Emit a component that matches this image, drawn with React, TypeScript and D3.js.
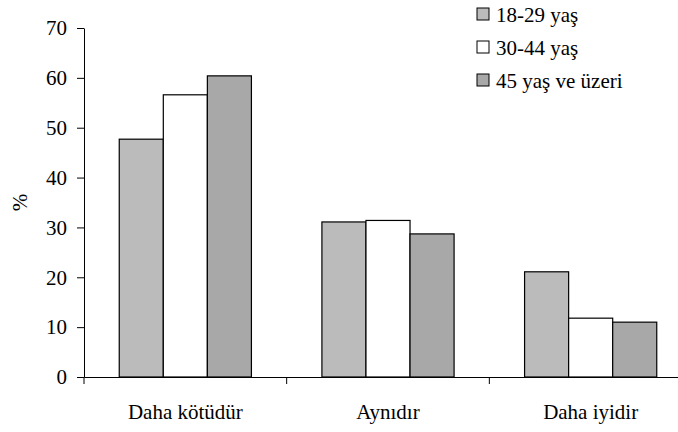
import React, { useEffect, useRef } from 'react';
import * as d3 from 'd3';

const categories = ['Daha kötüdür', 'Aynıdır', 'Daha iyidir'];
const seriesNames = ['18-29 yaş', '30-44 yaş', '45 yaş ve üzeri'];
const young = [47.7, 31.1, 21.1];
const middle = [56.6, 31.4, 11.8];
const older = [60.4, 28.7, 11.0];
const yTicks = [0, 10, 20, 30, 40, 50, 60, 70];

const colors = ['#bbbbbb', '#ffffff', '#a8a8a8'];

const App = () => {
  const ref = useRef<SVGSVGElement>(null);

  useEffect(() => {
    const svg = d3.select(ref.current);
    svg.selectAll('*').remove();

    const width = 678;
    const height = 432;
    const margin = { top: 28, right: -14, bottom: 55, left: 84 };

    const x = d3
      .scaleBand()
      .domain(categories)
      .range([margin.left, width - margin.right])
      .paddingInner(0)
      .paddingOuter(0);

    const inner = d3
      .scaleBand()
      .domain(seriesNames)
      .range([0, x.bandwidth()])
      .paddingOuter(0.8);

    const y = d3
      .scaleLinear()
      .domain([0, 70])
      .range([height - margin.bottom, margin.top]);

    const series = [young, middle, older];

    // Bars
    series.forEach((vals, si) => {
      svg
        .append('g')
        .selectAll('rect')
        .data(vals)
        .join('rect')
        .attr('x', (_, i) => (x(categories[i]) as number) + (inner(seriesNames[si]) as number))
        .attr('y', (d) => y(d))
        .attr('width', inner.bandwidth())
        .attr('height', (d) => y(0) - y(d))
        .attr('fill', colors[si])
        .attr('stroke', '#000')
        .attr('stroke-width', 1.2);
    });

    // Y axis
    const yAxis = svg
      .append('g')
      .attr('transform', `translate(${margin.left},0)`)
      .call(d3.axisLeft(y).tickValues(yTicks).tickSize(7).tickPadding(10).tickSizeOuter(0));
    yAxis.attr('font-family', null).attr('font-size', null);
    yAxis.select('.domain').attr('stroke', '#000');
    yAxis.selectAll('text').attr('fill', '#000');

    // X axis
    const xAxis = svg
      .append('g')
      .attr('transform', `translate(0,${y(0)})`)
      .call(d3.axisBottom(x).tickSize(0).tickPadding(27).tickSizeOuter(0));
    xAxis.attr('font-family', null).attr('font-size', null);
    xAxis.select('.domain').attr('stroke', '#000');
    xAxis.selectAll('text').attr('fill', '#000');
    xAxis
      .selectAll('line.sep')
      .data(categories)
      .join('line')
      .attr('class', 'sep')
      .attr('x1', (d) => x(d) as number)
      .attr('x2', (d) => x(d) as number)
      .attr('y1', 0)
      .attr('y2', 7)
      .attr('stroke', '#000');

    // Y label
    svg
      .append('text')
      .attr('transform', `translate(27,${(y(0) + y(70)) / 2}) rotate(-90)`)
      .attr('text-anchor', 'middle')
      .text('%');

    // Legend
    const legend = svg.append('g').attr('transform', 'translate(477,8)');
    seriesNames.forEach((name, i) => {
      const g = legend.append('g').attr('transform', `translate(0,${i * 33})`);
      g.append('rect')
        .attr('x', 0)
        .attr('y', 0)
        .attr('width', 12)
        .attr('height', 12)
        .attr('fill', colors[i])
        .attr('stroke', '#000');
      g.append('text').attr('x', 19).attr('y', 14).text(name);
    });
  }, []);

  return (
    <svg
      ref={ref}
      width={678}
      height={432}
      style={{
        position: 'absolute',
        left: 0,
        top: 0,
        background: '#fff',
        fontFamily: "'Liberation Serif', 'Times New Roman', serif",
        fontSize: '21px',
      }}
    />
  );
};

export default App;
